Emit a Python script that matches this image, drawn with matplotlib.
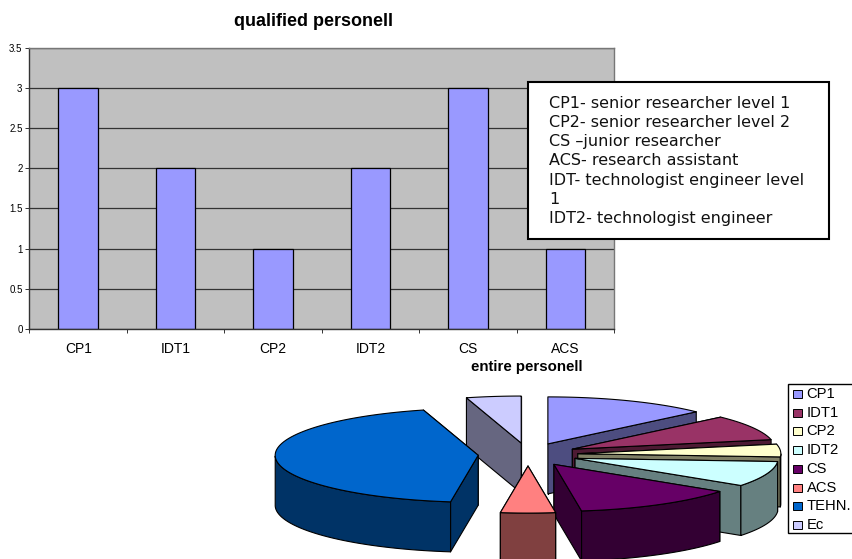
import numpy as np
import matplotlib
matplotlib.use("Agg")
import matplotlib.pyplot as plt
from matplotlib.patches import Polygon, Rectangle

plt.rcParams['font.family'] = ['Liberation Sans', 'DejaVu Sans']

W, H = 853, 559

bar_labels = ["CP1", "IDT1", "CP2", "IDT2", "CS", "ACS"]
bar_values = [3, 2, 1, 2, 3, 1]
y_ticks = [0, 0.5, 1, 1.5, 2, 2.5, 3, 3.5]
y_tick_labels = ["0", "0.5", "1", "1.5", "2", "2.5", "3", "3.5"]

pie_labels = ["CP1", "IDT1", "CP2", "IDT2", "CS", "ACS", "TEHN.", "Ec"]
pie_values = [3, 2, 1, 2, 3, 1, 10, 1]
pie_colors = ["#9999FF", "#993366", "#FFFFCC", "#CCFFFF", "#660066", "#FF8080", "#0066CC", "#CCCCFF"]
# back to front
pie_order = [7, 0, 1, 2, 3, 6, 4, 5]

note_text = ("CP1- senior researcher level 1\n"
             "CP2- senior researcher level 2\n"
             "CS \u2013junior researcher\n"
             "ACS- research assistant\n"
             "IDT- technologist engineer level\n"
             "1\n"
             "IDT2- technologist engineer")


def px_axes(fig, x0, y0, x1, y1):
    return fig.add_axes([x0 / W, 1 - y1 / H, (x1 - x0) / W, (y1 - y0) / H])


def draw_bars(fig):
    ax = px_axes(fig, 29.5, 47.5, 614, 329)
    ax.set_facecolor("#C0C0C0")
    ax.set_axisbelow(True)
    ax.bar(range(len(bar_values)), bar_values, width=0.405, color="#9999FF", edgecolor="black", linewidth=0.9)
    ax.set_xlim(-0.5, len(bar_values) - 0.5)
    ax.set_ylim(0, 3.5)
    ax.set_yticks(y_ticks)
    ax.set_yticklabels(y_tick_labels, fontsize=7)
    ax.set_xticks(np.arange(len(bar_values) + 1) - 0.5, minor=True)
    ax.set_xticks(range(len(bar_values)))
    ax.set_xticklabels(bar_labels, fontsize=10)
    ax.tick_params(axis="x", which="major", length=0, pad=9.5)
    ax.tick_params(axis="x", which="minor", length=3, width=0.7, color="#333333")
    ax.tick_params(axis="y", length=3, width=0.7, pad=2, color="#333333")
    ax.grid(axis="y", color="#333333", linewidth=0.9)
    for s in ax.spines.values():
        s.set_color("#777777")
        s.set_linewidth(1.0)
    ax.spines["left"].set_color("#333333")
    ax.spines["bottom"].set_color("#333333")


def shade(color):
    return tuple(c * 0.5 for c in matplotlib.colors.to_rgb(color))


def draw_pie(ax):
    cx, cy = 528, 454.5
    rx, ry = 203, 47
    depth = 50
    explode = 0.246
    edges = np.cumsum([0] + pie_values) * 360.0 / sum(pie_values)

    for i in pie_order:
        a0, a1 = edges[i], edges[i + 1]
        mid = np.radians((a0 + a1) / 2)
        ax_x = cx + explode * rx * np.sin(mid)
        ax_y = cy - explode * ry * np.cos(mid)
        th = np.radians(np.linspace(a0, a1, 80))
        xs = ax_x + rx * np.sin(th)
        ys = ax_y - ry * np.cos(th)
        face = pie_colors[i]
        dark = shade(face)
        kw = dict(edgecolor="black", linewidth=0.8, joinstyle="round")

        # radial walls, the one reaching further back goes first
        for k in sorted((0, -1), key=lambda n: ys[n]):
            ax.add_patch(Polygon([(ax_x, ax_y), (xs[k], ys[k]), (xs[k], ys[k] + depth), (ax_x, ax_y + depth)],
                                 facecolor=dark, **kw))
        # outer rim, only the front part shows
        front = np.cos(th) <= 0
        if front.any():
            fx, fy = xs[front], ys[front]
            rim = list(zip(fx, fy)) + list(zip(fx[::-1], fy[::-1] + depth))
            ax.add_patch(Polygon(rim, facecolor=dark, **kw))
        # top
        ax.add_patch(Polygon([(ax_x, ax_y)] + list(zip(xs, ys)), facecolor=face, **kw))


def draw_legend(ax):
    ax.add_patch(Rectangle((788, 384), 80, 149, facecolor="white", edgecolor="black", linewidth=1.0))
    for i, name in enumerate(pie_labels):
        y = 394 + i * 18.7
        ax.add_patch(Rectangle((793, y - 4), 9, 8, facecolor=pie_colors[i], edgecolor="black", linewidth=0.7))
        ax.text(806.5, y, name, fontsize=10.6, va="center", ha="left", color="black")


def draw_note(ax):
    box = Rectangle((528, 82), 301.5, 156.5, facecolor="white", edgecolor="black", linewidth=1.5, zorder=5)
    ax.add_patch(box)
    t = ax.text(549, 95.5, note_text, family="DejaVu Sans", fontsize=11.5, va="top", ha="left",
                linespacing=1.36, color="#111111", zorder=6)
    t.set_clip_path(Rectangle((528, 82), 302, 146.5, transform=ax.transData))


fig = plt.figure(figsize=(W / 100, H / 100), dpi=100)
draw_bars(fig)

over = fig.add_axes([0, 0, 1, 1])
over.set_xlim(0, W)
over.set_ylim(H, 0)
over.axis("off")
over.patch.set_alpha(0)

over.text(314, 21, "qualified personell", fontsize=13, fontweight="bold", ha="center", va="center")
over.text(527, 367, "entire personell", fontsize=10.8, fontweight="bold", ha="center", va="center")
draw_pie(over)
draw_legend(over)
draw_note(over)

fig.savefig("out.png", dpi=100)
